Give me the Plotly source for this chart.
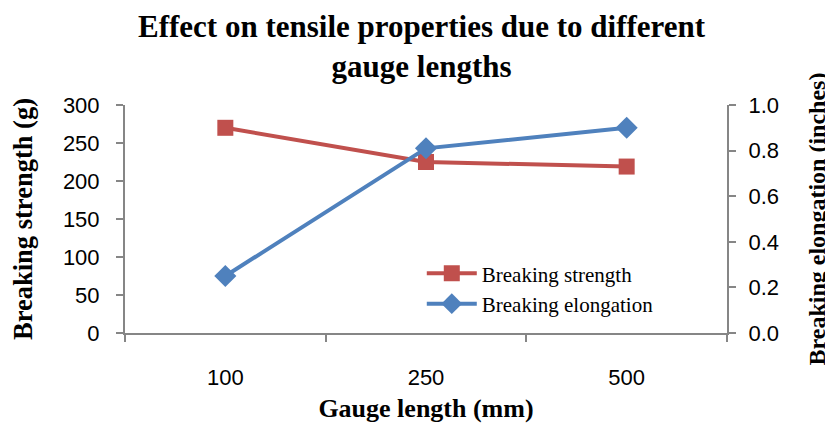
import plotly.graph_objects as go

gauge_lengths = ["100", "250", "500"]
breaking_strength = [270, 225, 219]
breaking_elongation = [0.25, 0.81, 0.90]

AXIS_GRAY = "#868686"
SERIF = "Liberation Serif, Times New Roman, serif"
TICK_FONT = dict(family="Liberation Sans, Arial, sans-serif", size=22, color="black")

fig = go.Figure()

fig.add_trace(
    go.Scatter(
        x=gauge_lengths,
        y=breaking_strength,
        mode="lines+markers",
        name="Breaking strength",
        line=dict(color="#C0504D", width=4),
        marker=dict(symbol="square", size=16, color="#C0504D"),
    )
)

fig.add_trace(
    go.Scatter(
        x=gauge_lengths,
        y=breaking_elongation,
        mode="lines+markers",
        name="Breaking elongation",
        yaxis="y2",
        line=dict(color="#4F81BD", width=4),
        marker=dict(symbol="diamond", size=17, color="#4F81BD"),
    )
)

axis_common = dict(
    ticks="outside",
    ticklen=7,
    tickcolor=AXIS_GRAY,
    tickwidth=2,
    showline=True,
    linecolor=AXIS_GRAY,
    linewidth=2,
    showgrid=False,
    zeroline=False,
    tickfont=TICK_FONT,
    automargin=False,
)

# the page body adds an 8px offset, so margins are trimmed to compensate
fig.update_layout(
    width=833,
    height=428,
    paper_bgcolor="white",
    plot_bgcolor="white",
    margin=dict(l=117, r=114, t=97, b=103),
    title=dict(
        text="Effect on tensile properties due to different<br>gauge lengths",
        x=0.4965,
        xanchor="center",
        y=0.933,
        yanchor="middle",
        font=dict(family=SERIF, size=31, color="black", weight="bold"),
    ),
    xaxis=dict(
        type="category",
        tickson="boundaries",
        range=[-0.5, 2.5],
        ticklabelstandoff=24,
        title=dict(text="<b>Gauge length (mm)</b>", standoff=9,
                   font=dict(family=SERIF, size=26, color="black")),
        **axis_common,
    ),
    yaxis=dict(
        range=[0, 300],
        dtick=50,
        ticklabelstandoff=12,
        title=dict(text="<b>Breaking strength (g)</b>", standoff=30,
                   font=dict(family=SERIF, size=26.5, color="black")),
        **axis_common,
    ),
    yaxis2=dict(
        overlaying="y",
        side="right",
        range=[0, 1.0],
        dtick=0.2,
        tickformat=".1f",
        ticklabelstandoff=8,
        title=dict(text="<b>Breaking elongation (inches)</b>", standoff=30,
                   font=dict(family=SERIF, size=24, color="black")),
        **axis_common,
    ),
    legend=dict(
        x=0.493,
        y=0.35,
        xanchor="left",
        yanchor="top",
        bgcolor="rgba(0,0,0,0)",
        font=dict(family=SERIF, size=21, color="black"),
        itemwidth=50,
        tracegroupgap=0,
    ),
    showlegend=True,
)

fig.write_html("out.html")
